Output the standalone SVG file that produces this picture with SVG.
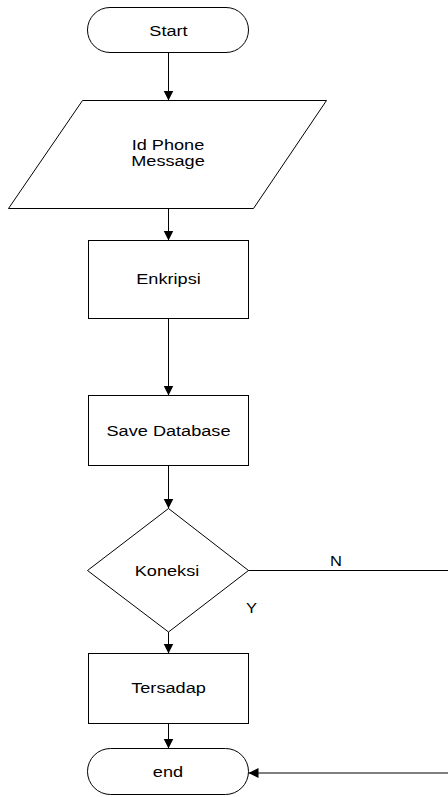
<svg xmlns="http://www.w3.org/2000/svg" width="448" height="797" viewBox="0 0 448 797">
<style>
.s{fill:#fff;stroke:#000;stroke-width:1}
.c{fill:none;stroke:#000;stroke-width:1}
.t{font-family:"Liberation Sans",Arial,sans-serif;font-size:15px;text-anchor:middle;fill:#000}
</style>
<defs>
<marker id="ah" markerUnits="userSpaceOnUse" markerWidth="11" markerHeight="11" refX="10" refY="5" orient="auto">
<path d="M0,0 L10,5 L0,10 z" fill="#000"/>
</marker>
</defs>
<rect width="448" height="797" fill="#fff"/>
<g id="connectors">
<path class="c" d="M168.5,52.5 V100.5" marker-end="url(#ah)"/>
<path class="c" d="M168.5,208.5 V240.5" marker-end="url(#ah)"/>
<path class="c" d="M168.5,318.5 V395.5" marker-end="url(#ah)"/>
<path class="c" d="M168.5,465.5 V508.5" marker-end="url(#ah)"/>
<path class="c" d="M168.5,632 V653.5" marker-end="url(#ah)"/>
<path class="c" d="M168.5,723.5 V748.5" marker-end="url(#ah)"/>
<path class="c" d="M248,570.5 H450 V773 H248.5" marker-end="url(#ah)"/>
<text class="t" transform="translate(336,0) scale(1.1,1)" x="0" y="566">N</text>
<text class="t" transform="translate(251.5,0) scale(1.1,1)" x="0" y="613">Y</text>
</g>
<g id="start">
<rect class="s" x="87.5" y="7.5" width="161" height="45" rx="22.5"/>
<text class="t" transform="translate(168.5,0) scale(1.21,1)" x="0" y="35.7">Start</text>
</g>
<g id="input">
<polygon class="s" points="82.5,100.5 326.5,100.5 253.5,208.5 8.5,208.5"/>
<text class="t" transform="translate(168,0) scale(1.21,1)" x="0" y="150">Id Phone</text>
<text class="t" transform="translate(168,0) scale(1.21,1)" x="0" y="165.7">Message</text>
</g>
<g id="enkripsi">
<rect class="s" x="88.5" y="240.5" width="160" height="78"/>
<text class="t" transform="translate(168.5,0) scale(1.21,1)" x="0" y="284.5">Enkripsi</text>
</g>
<g id="save">
<rect class="s" x="88.5" y="395.5" width="160" height="70"/>
<text class="t" transform="translate(168.5,0) scale(1.21,1)" x="0" y="435.7">Save Database</text>
</g>
<g id="koneksi">
<polygon class="s" points="168.5,508.5 248.5,570.5 168.5,632 87.5,570.5"/>
<text class="t" transform="translate(167,0) scale(1.21,1)" x="0" y="575.7">Koneksi</text>
</g>
<g id="tersadap">
<rect class="s" x="88.5" y="653.5" width="160" height="70"/>
<text class="t" transform="translate(168.5,0) scale(1.21,1)" x="0" y="693.5">Tersadap</text>
</g>
<g id="end">
<rect class="s" x="87.5" y="748.5" width="161" height="46" rx="23"/>
<text class="t" transform="translate(168,0) scale(1.21,1)" x="0" y="777">end</text>
</g>
</svg>
